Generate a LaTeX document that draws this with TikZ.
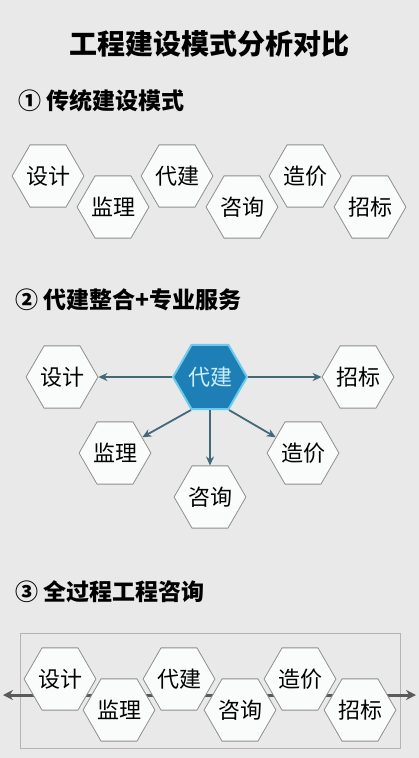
\documentclass[tikz,border=0pt]{standalone}
\usepackage{fontspec}
\setmainfont{Noto Sans CJK SC}
\usetikzlibrary{shapes.geometric,arrows.meta}

\definecolor{bggray}{HTML}{E9E9EA}
\definecolor{hexline}{HTML}{8E8E8E}
\definecolor{hexfill}{HTML}{FAFCFC}
\definecolor{corefill}{HTML}{1E7FB6}
\definecolor{coreline}{HTML}{6CCBEA}
\definecolor{coretext}{HTML}{CDEDF8}
\definecolor{linkcol}{HTML}{41697A}
\definecolor{axiscol}{HTML}{5A5A5A}
\definecolor{framecol}{HTML}{B4B4B4}

\begin{document}
\begin{tikzpicture}[x=1pt,y=-1pt,
    hexcell/.style={regular polygon,regular polygon sides=6,minimum size=70pt,inner sep=0pt,
        draw=hexline,fill=hexfill,line width=0.8pt,font=\fontsize{22}{22}\selectfont},
    headline/.style={anchor=west,font=\fontsize{23}{23}\selectfont\bfseries}]
\fill[bggray] (0,0) rectangle (419,758);
\useasboundingbox (0,0) rectangle (419,758);

\node (title) at (209.5,44) {\fontsize{28}{28}\selectfont\bfseries 工程建设模式分析对比};

% (1)
\node[headline] (head1) at (15,101) {① 传统建设模式};
\begin{scope}[every node/.style={hexcell}]
    \node (sj1) at (48,176) {设计};
    \node (jl1) at (113,207) {监理};
    \node (dj1) at (177,176) {代建};
    \node (zx1) at (242,207) {咨询};
    \node (zj1) at (305,176) {造价};
    \node (zb1) at (370,207) {招标};
\end{scope}

% (2)
\node[headline] (head2) at (12,300) {② 代建整合+专业服务};
\begin{scope}[every node/.style={hexcell}]
    \node (sj2) at (62,377) {设计};
    \node (zb2) at (358,377) {招标};
    \node (jl2) at (115,453) {监理};
    \node (zj2) at (303,453) {造价};
    \node (zx2) at (210,497) {咨询};
    \node[minimum size=74pt,fill=corefill,draw=coreline,line width=2pt,text=coretext] (dj2) at (210,377) {代建};
\end{scope}

\begin{scope}[draw=linkcol,line width=1.8pt,>={Stealth[length=9pt,width=8pt]}]
    \path [->] (dj2) edge node {} (sj2);
    \path [->] (dj2) edge node {} (zb2);
    \path [->] (dj2.240) edge node {} (jl2.30);
    \path [->] (dj2.south) edge node {} (zx2.north);
    \path [->] (dj2.300) edge node {} (zj2.150);
\end{scope}

% (3)
\node[headline] (head3) at (12,592) {③ 全过程工程咨询};
\draw[framecol,line width=0.8pt] (20,633) rectangle (400,748);
\coordinate (axl) at (3,695);
\coordinate (axr) at (416,695);
\draw[axiscol,line width=3pt,{Stealth[length=10pt,width=10pt]}-{Stealth[length=10pt,width=10pt]}] (axl) -- (axr);
\begin{scope}[every node/.style={hexcell,minimum size=69pt}]
    \node (sj3) at (60,679) {设计};
    \node (jl3) at (119,710) {监理};
    \node (dj3) at (179,679) {代建};
    \node (zx3) at (240,710) {咨询};
    \node (zj3) at (300,679) {造价};
    \node (zb3) at (360,710) {招标};
\end{scope}

\end{tikzpicture}
\end{document}
